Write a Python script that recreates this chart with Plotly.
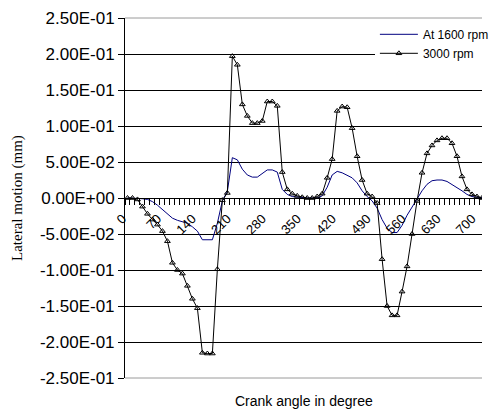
import plotly.graph_objects as go

# Crank angle in degrees (one cycle of a four-stroke engine)
crank_angle = list(range(0, 730, 10))

# Lateral piston motion (mm) at 1600 rpm
lateral_1600 = [
    0.000, 0.000, -0.001, -0.001, -0.002, -0.005, -0.010, -0.016, -0.023, -0.028,
    -0.031, -0.033, -0.035, -0.040, -0.046, -0.058, -0.058, -0.058, -0.035, -0.004,
    0.009, 0.056, 0.053, 0.040, 0.032, 0.029, 0.029, 0.034, 0.039, 0.039,
    0.036, 0.012, 0.005, 0.002, 0.001, 0.000, 0.000, 0.000, 0.000, 0.003,
    0.015, 0.032, 0.037, 0.035, 0.032, 0.028, 0.021, 0.010, 0.002, -0.004,
    -0.014, -0.030, -0.042, -0.048, -0.048, -0.038, -0.024, -0.012, -0.001, 0.010,
    0.019, 0.024, 0.025, 0.025, 0.023, 0.019, 0.015, 0.010, 0.005, 0.002,
    0.001, 0.000, 0.000,
]

# Lateral piston motion (mm) at 3000 rpm
lateral_3000 = [
    0.000, 0.000, -0.002, -0.012, -0.022, -0.030, -0.037, -0.046, -0.060, -0.090,
    -0.100, -0.105, -0.122, -0.140, -0.153, -0.215, -0.216, -0.216, -0.099, -0.003,
    0.007, 0.197, 0.185, 0.130, 0.114, 0.104, 0.104, 0.107, 0.134, 0.134,
    0.128, 0.036, 0.012, 0.006, 0.003, 0.001, 0.000, 0.000, 0.002, 0.006,
    0.028, 0.054, 0.121, 0.127, 0.126, 0.097, 0.058, 0.025, 0.006, 0.002,
    -0.007, -0.085, -0.150, -0.163, -0.163, -0.130, -0.095, -0.050, -0.004, 0.035,
    0.062, 0.073, 0.080, 0.083, 0.083, 0.076, 0.058, 0.030, 0.012, 0.005,
    0.002, 0.000, 0.000,
]

x_tick_values = [0, 70, 140, 210, 280, 350, 420, 490, 560, 630, 700]
y_tick_values = [0.25, 0.20, 0.15, 0.10, 0.05, 0.0, -0.05, -0.10, -0.15, -0.20, -0.25]

SANS = "Arial, Liberation Sans, sans-serif"
SERIF = "Times New Roman, Liberation Serif, serif"
X_RANGE = [-5, 710.1]
CLEAR = "rgba(0,0,0,0)"

fig = go.Figure()
fig.add_trace(go.Scatter(
    x=crank_angle, y=lateral_1600, name="At 1600 rpm", mode="lines",
    line=dict(color="#000080", width=1),
))
fig.add_trace(go.Scatter(
    x=crank_angle, y=lateral_3000, name="3000 rpm", mode="lines+markers",
    line=dict(color="black", width=1),
    marker=dict(symbol="triangle-up-open", size=5, color="black", line=dict(width=1)),
))
# empty trace that keeps the between-category tick axis active
fig.add_trace(go.Scatter(
    x=crank_angle, y=lateral_1600, xaxis="x2", mode="none",
    showlegend=False, hoverinfo="none",
))

fig.update_layout(
    template="none",
    width=494, height=414,
    margin=dict(l=125, r=0, t=18, b=36),
    paper_bgcolor="white", plot_bgcolor="white",
    font=dict(family=SANS, color="black"),
    showlegend=True,
    legend=dict(
        x=0.70, y=0.995, xanchor="left", yanchor="top",
        bgcolor="white", borderwidth=0,
        font=dict(size=12, family=SANS),
        itemwidth=38, tracegroupgap=0,
    ),
    # category axis crossing the value axis at zero, labels centred on categories
    xaxis=dict(
        range=X_RANGE, anchor="free", position=0.5,
        showline=True, linecolor="black", linewidth=1,
        showgrid=False, zeroline=False,
        tickvals=x_tick_values, ticktext=[str(v) for v in x_tick_values],
        tickangle=-45, ticks="outside", ticklen=6, tickcolor=CLEAR,
        ticklabelshift=-5, ticklabelstandoff=1,
        tickfont=dict(size=13, family=SANS),
        minor=dict(tick0=-5, dtick=10, ticks="outside", ticklen=6,
                   tickcolor="black", tickwidth=1, showgrid=False),
    ),
    # tick marks between categories
    xaxis2=dict(
        range=X_RANGE, overlaying="x", anchor="free", position=0.5, side="bottom",
        showgrid=False, zeroline=False, showline=False, showticklabels=False,
        tickmode="linear", tick0=-5, dtick=10,
        ticks="outside", ticklen=6, tickcolor="black", tickwidth=1,
    ),
    yaxis=dict(
        range=[-0.25, 0.25],
        showline=True, linecolor="black", linewidth=1,
        showgrid=True, gridcolor="black", gridwidth=1, zeroline=False,
        tickvals=y_tick_values, ticktext=[f"{v:.2E}" for v in y_tick_values],
        ticks="outside", ticklen=6, tickcolor="black", tickwidth=1,
        tickfont=dict(size=17, family=SANS),
    ),
    shapes=[
        dict(type="line", xref="paper", yref="paper", x0=0, x1=1, y0=1, y1=1,
             line=dict(color="#9a9a9a", width=1), layer="above"),
        dict(type="line", xref="paper", yref="paper", x0=0, x1=1, y0=0, y1=0,
             line=dict(color="#9a9a9a", width=1), layer="above"),
    ],
    annotations=[
        dict(text="Lateral motion (mm)", xref="paper", yref="paper", x=0, y=0.5,
             xanchor="center", yanchor="middle",
             xshift=-108, textangle=-90, showarrow=False,
             font=dict(family=SERIF, size=15, color="black")),
        dict(text="Crank angle in degree", xref="paper", yref="paper", x=0.5, y=0,
             xanchor="center", yshift=-23, yanchor="middle", showarrow=False,
             font=dict(family=SANS, size=14, color="black")),
    ],
)

fig.write_html("out.html")
